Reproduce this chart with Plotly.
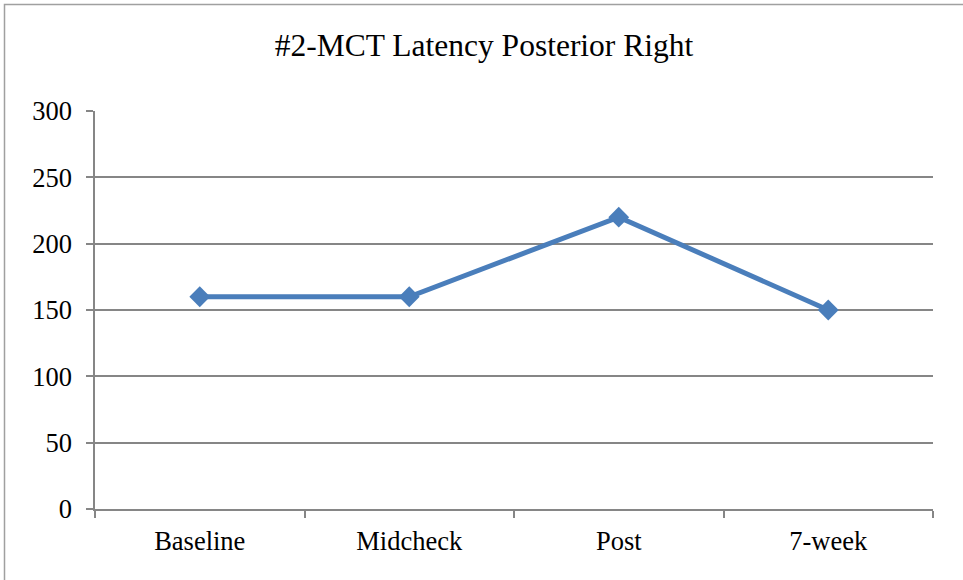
import plotly.graph_objects as go

categories = ["Baseline", "Midcheck", "Post", "7-week"]
latency = [160, 160, 220, 150]
y_ticks = [0, 50, 100, 150, 200, 250, 300]
title_text = "#2-MCT Latency Posterior Right"

W, H = 963, 580
L, R, T, B = 95, 30, 111, 71
pw, ph = W - L - R, H - T - B

fig = go.Figure(go.Scatter(
    x=categories, y=latency, mode="lines+markers",
    line=dict(color="#4A7EBB", width=5),
    marker=dict(symbol="diamond", size=16, color="#4A7EBB"),
    showlegend=False,
))

font = "Liberation Serif, Times New Roman, serif"
fig.update_layout(
    width=W, height=H,
    margin=dict(l=L, r=R, t=T, b=B),
    paper_bgcolor="white", plot_bgcolor="white",
    font=dict(family=font, color="black", size=26.5),
    title=dict(text=title_text, x=484 / W, xanchor="center",
               y=1 - 45 / H, yanchor="middle",
               font=dict(family=font, size=31.5, color="black")),
    xaxis=dict(type="category", range=[-0.5, 3.5], tickson="boundaries",
               ticks="outside", ticklen=7, tickcolor="#868686", tickwidth=1.5,
               showline=True, linecolor="#868686", linewidth=1.5,
               showgrid=False, zeroline=False, fixedrange=True,
               ticklabelstandoff=7,
               tickfont=dict(family=font, size=26.5)),
    yaxis=dict(range=[0, 300], tickvals=y_ticks, ticks="outside", ticklen=7,
               tickcolor="#868686", tickwidth=1.5,
               showline=True, linecolor="#868686", linewidth=1.5,
               showgrid=True, gridcolor="#868686", gridwidth=1.5,
               zeroline=False, fixedrange=True, ticklabelstandoff=9,
               tickfont=dict(family=font, size=26.5)),
    shapes=[dict(type="rect", xref="paper", yref="paper",
                 x0=(4.5 - L) / pw, x1=(W + 20 - L) / pw,
                 y0=(T + ph - (H + 20)) / ph, y1=(T + ph - 4.5) / ph,
                 line=dict(color="#A0A0A0", width=1.5), layer="below")],
)

fig.write_html("out.html", config={"displayModeBar": False},
               post_script="document.body.style.margin='0';document.body.style.overflow='hidden';")
